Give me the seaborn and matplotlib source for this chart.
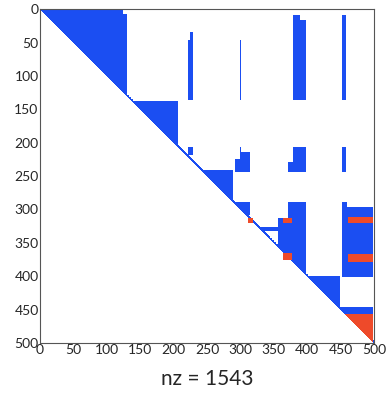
import numpy as np
import seaborn as sns
import matplotlib.pyplot as plt
from matplotlib.colors import ListedColormap

# sparsity pattern (row start, row end, last column) of the triangular diagonal blocks
n = 500
nz = 1543
tri_blocks = [(0, 131, 131), (138, 207, 207), (241, 289, 289), (289, 308, 314), (400, 449, 449)]
# blue rectangles (row0, row1, col0, col1), kept to the upper triangle
blue_rects = [
    (46, 136, 222, 229), (34, 46, 225, 229), (46, 136, 300, 301),
    (9, 136, 379, 389), (16, 136, 389, 398), (9, 136, 452, 458),
    (206, 218, 222, 229), (206, 214, 300, 301), (214, 244, 300, 314), (225, 244, 292, 300),
    (206, 244, 379, 398), (229, 244, 371, 379), (206, 244, 452, 458),
    (326, 333, 326, 360), (313, 398, 357, 371),
    (289, 398, 371, 398), (289, 401, 452, 459), (296, 401, 459, 498),
    (446, 456, 449, 498),
]
red_rects = [
    (313, 320, 311, 319), (313, 321, 364, 377), (365, 376, 364, 377),
    (311, 321, 461, 498), (366, 379, 461, 498),
]
red_tri = [(456, 500, 498)]
white_rects = [(0, 8, 124, 132)]
diag_width = 4
ticks = list(range(0, 501, 50))

rows, cols = np.indices((n, n))
upper = cols >= rows
M = np.zeros((n, n))
M[upper & (cols - rows < diag_width)] = 1
for r0, r1, c1 in tri_blocks:
    M[r0:r1, :c1][upper[r0:r1, :c1]] = 1
for r0, r1, c0, c1 in blue_rects:
    M[r0:r1, c0:c1][upper[r0:r1, c0:c1]] = 1
for r0, r1, c0, c1 in white_rects:
    M[r0:r1, c0:c1] = 0
for r0, r1, c0, c1 in red_rects:
    M[r0:r1, c0:c1] = 2
for r0, r1, c1 in red_tri:
    M[r0:r1, :c1][upper[r0:r1, :c1]] = 2

sns.set_style('white')
plt.rcParams['font.family'] = ['Lato', 'DejaVu Sans']

fig = plt.figure(figsize=(3.86, 3.97), dpi=100)
ax = fig.add_axes([0.1036, 0.136, 0.865, 0.841])
cmap = ListedColormap(['#ffffff', '#1b4ef2', '#ee4a2a'])
sns.heatmap(M, cmap=cmap, vmin=0, vmax=2, cbar=False, ax=ax,
            xticklabels=False, yticklabels=False, rasterized=True)

ax.set_xticks(ticks)
ax.set_yticks(ticks)
ax.set_xticklabels(ticks, fontsize=10, rotation=0)
ax.set_yticklabels(ticks, fontsize=10, rotation=0)
ax.tick_params(direction='in', length=3, width=0.6, color='#555555',
               top=True, right=True, bottom=True, left=True, pad=1)
for s in ax.spines.values():
    s.set_visible(True)
    s.set_color('#555555')
    s.set_linewidth(0.8)
ax.set_xlabel('nz = %d' % nz, fontsize=15, labelpad=9)

fig.savefig('out.png', dpi=100)
